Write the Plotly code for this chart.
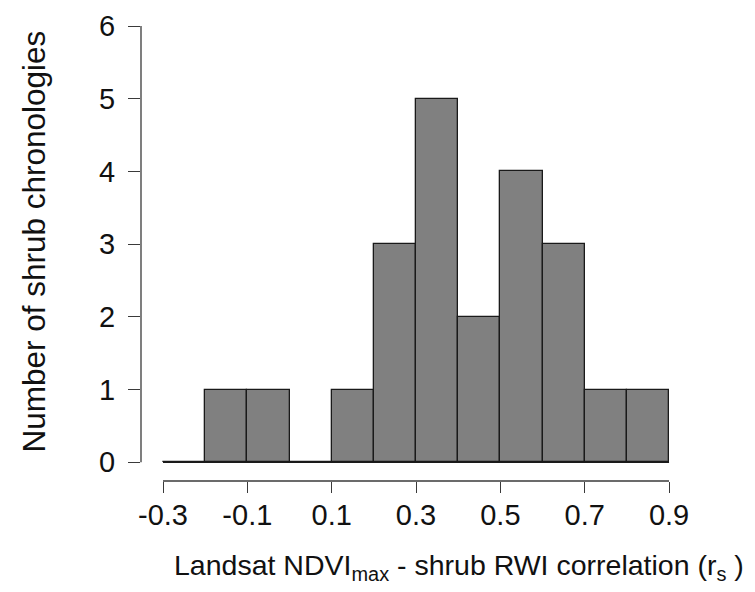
import numpy as np
import plotly.graph_objects as go

# Histogram of correlation coefficients (bin width 0.1)
bin_edges = [-0.3, -0.2, -0.1, 0.0, 0.1, 0.2, 0.3, 0.4, 0.5, 0.6, 0.7, 0.8, 0.9]
counts = [0, 1, 1, 0, 1, 3, 5, 2, 4, 3, 1, 1]

x_ticks = [-0.3, -0.1, 0.1, 0.3, 0.5, 0.7, 0.9]
x_tick_labels = ["-0.3", "-0.1", "0.1", "0.3", "0.5", "0.7", "0.9"]
y_ticks = [0, 1, 2, 3, 4, 5, 6]

edges = np.array(bin_edges)
centers = (edges[:-1] + edges[1:]) / 2
widths = np.diff(edges)

W, H = 755, 592
L, R, T, B = 141, 55, 10, 111

FONT = "Liberation Sans, Arial, Helvetica, sans-serif"
FS = 29
AXIS_COLOR = "#3a3a3a"
EDGE_COLOR = "#1a1a1a"

fig = go.Figure()

fig.add_trace(go.Bar(
    x=centers, y=counts, width=widths,
    marker=dict(color="#808080", line=dict(color=EDGE_COLOR, width=1.3)),
    hoverinfo="x+y", showlegend=False,
))

# baseline under the bins (zero-count bins show as a flat line)
fig.add_trace(go.Scatter(
    x=[edges[0], edges[-1]], y=[0, 0], mode="lines",
    line=dict(color=EDGE_COLOR, width=1.3), hoverinfo="skip", showlegend=False,
))

# detached axis lines spanning only the tick range
fig.add_shape(type="line", xref="paper", yref="y", x0=0, x1=0,
              y0=y_ticks[0], y1=y_ticks[-1], line=dict(color=AXIS_COLOR, width=1.3))
fig.add_shape(type="line", xref="x", yref="paper", x0=x_ticks[0], x1=x_ticks[-1],
              y0=0, y1=0, line=dict(color=AXIS_COLOR, width=1.3))

x_lo = -0.3 - 22 / 421.7
x_hi = x_lo + (W - L - R) / 421.7
y_lo = -19 / 73.8
y_hi = y_lo + (H - T - B) / 73.8

fig.update_layout(
    width=W, height=H,
    margin=dict(l=L, r=R, t=T, b=B, pad=0),
    paper_bgcolor="white", plot_bgcolor="white",
    font=dict(family=FONT, size=FS, color="#111111"),
    bargap=0,
    xaxis=dict(
        range=[x_lo, x_hi], showgrid=False, zeroline=False, showline=False,
        tickmode="array", tickvals=x_ticks, ticktext=x_tick_labels,
        ticks="outside", ticklen=11, tickwidth=1.3, tickcolor=AXIS_COLOR,
        tickfont=dict(family=FONT, size=FS, color="#111111"),
        ticklabelstandoff=-3,
    ),
    yaxis=dict(
        range=[y_lo, y_hi], showgrid=False, zeroline=False, showline=False,
        tickmode="array", tickvals=y_ticks,
        ticks="outside", ticklen=12, tickwidth=1.3, tickcolor=AXIS_COLOR,
        tickfont=dict(family=FONT, size=FS, color="#111111"),
        ticklabelstandoff=7,
    ),
    annotations=[
        dict(text="Landsat NDVI<sub>max</sub> - shrub RWI correlation (r<sub>s</sub> )",
             xref="paper", yref="paper",
             x=(459 - L) / (W - L - R), y=-(568 - (H - B)) / (H - T - B),
             xanchor="center", yanchor="middle", showarrow=False,
             font=dict(family=FONT, size=28.5, color="#111111")),
        dict(text="Number of shrub chronologies",
             xref="paper", yref="paper",
             x=-(L - 34) / (W - L - R), y=((H - B) - 238) / (H - T - B),
             xanchor="center", yanchor="middle", textangle=-90, showarrow=False,
             font=dict(family=FONT, size=31.5, color="#111111")),
    ],
)

fig.write_html("out.html")
